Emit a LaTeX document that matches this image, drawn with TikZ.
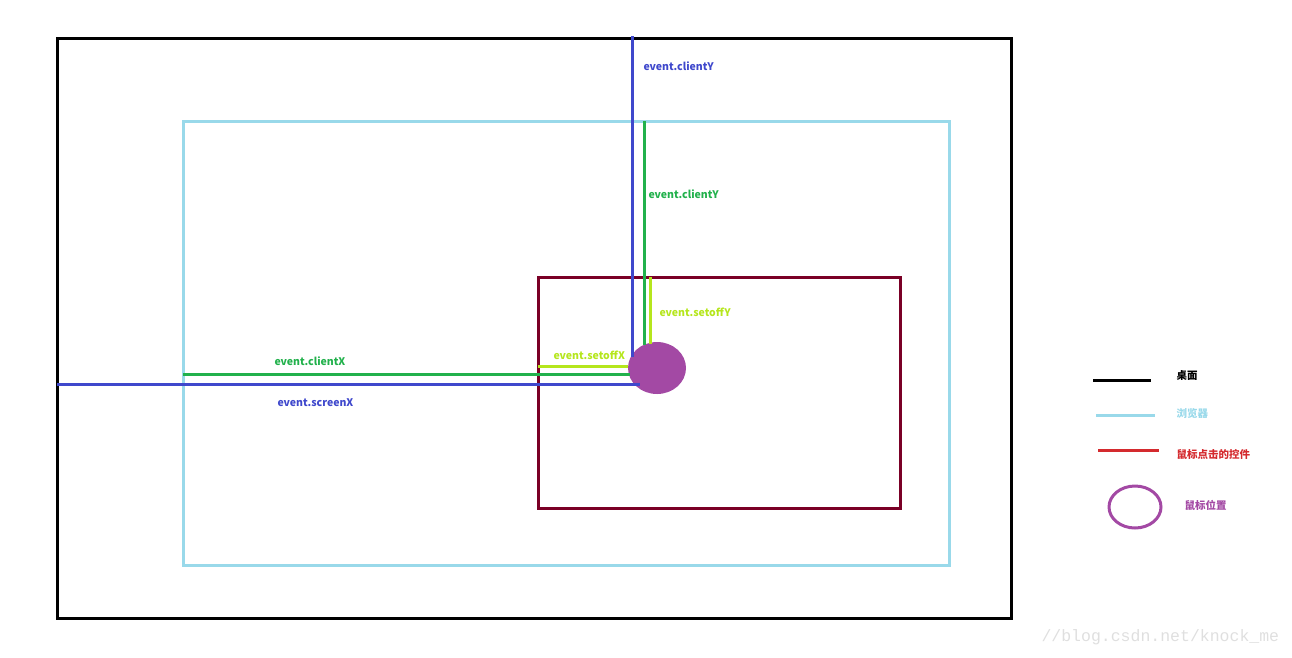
\documentclass[tikz,border=0pt]{standalone}
\usepackage{fontspec}
\setmainfont{Noto Sans CJK SC}
\setmonofont{Liberation Mono}
\usetikzlibrary{shapes.geometric}
\definecolor{browser}{HTML}{99D9EA}
\definecolor{ctrl}{HTML}{7A0026}
\definecolor{screenc}{HTML}{3F48CC}
\definecolor{clientc}{HTML}{22B14C}
\definecolor{offc}{HTML}{B5E61D}
\definecolor{mousec}{HTML}{A349A4}
\definecolor{legred}{HTML}{D42A2E}
\tikzset{
  lbl/.style={anchor=west,inner sep=0pt,font=\bfseries\fontsize{10.5}{12}\selectfont},
  leg/.style={anchor=west,inner sep=0pt,font=\bfseries\fontsize{10.5}{12}\selectfont},
}
\begin{document}
\begin{tikzpicture}[x=1pt,y=-1pt,line width=3pt]
\useasboundingbox (0,0) rectangle (1292,657);
% desktop, browser, clicked control
\draw[black] (57,38) rectangle (1011,618);
\draw[browser] (183,121) rectangle (949,565);
\draw[ctrl] (538,277) rectangle (900,508);
\node[ellipse,fill=mousec,inner sep=0pt,minimum width=58pt,minimum height=52pt] (mouse) at (657,368) {};
% screen / client / offset distances
\draw[screenc] (632,36)--(632,357);
\draw[screenc] (57,384)--(640,384);
\draw[clientc] (644,121)--(644,345);
\draw[clientc] (183,374)--(630,374);
\draw[offc] (650,277)--(650,344);
\draw[offc] (538,366)--(628,366);
\node[lbl,text=screenc] (sy) at (642,66) {event.clientY};
\node[lbl,text=clientc] (cy) at (647,194) {event.clientY};
\node[lbl,text=offc] (oy) at (658,312) {event.setoffY};
\node[lbl,text=offc] (ox) at (552,355) {event.setoffX};
\node[lbl,text=clientc] (cx) at (273,361) {event.clientX};
\node[lbl,text=screenc] (sx) at (276,403) {event.screenX};
% legend
\draw[black] (1093,380)--(1151,380);
\node[leg,text=black] (l1) at (1175,375) {桌面};
\draw[browser] (1096,415)--(1155,415);
\node[leg,text=browser] (l2) at (1175,414) {浏览器};
\draw[legred] (1098,450)--(1159,450);
\node[leg,text=legred] (l3) at (1175,454) {鼠标点击的控件};
\node[ellipse,draw=mousec,inner sep=0pt,minimum width=52pt,minimum height=42pt] (lm) at (1135,507) {};
\node[leg,text=mousec] (l4) at (1183,505) {鼠标位置};
\node[anchor=west,inner sep=0pt,text=gray!25,font=\ttfamily\fontsize{16.5}{17}\selectfont] (wm) at (1040,637) {//blog.csdn.net/knock\_me};
\end{tikzpicture}
\end{document}
